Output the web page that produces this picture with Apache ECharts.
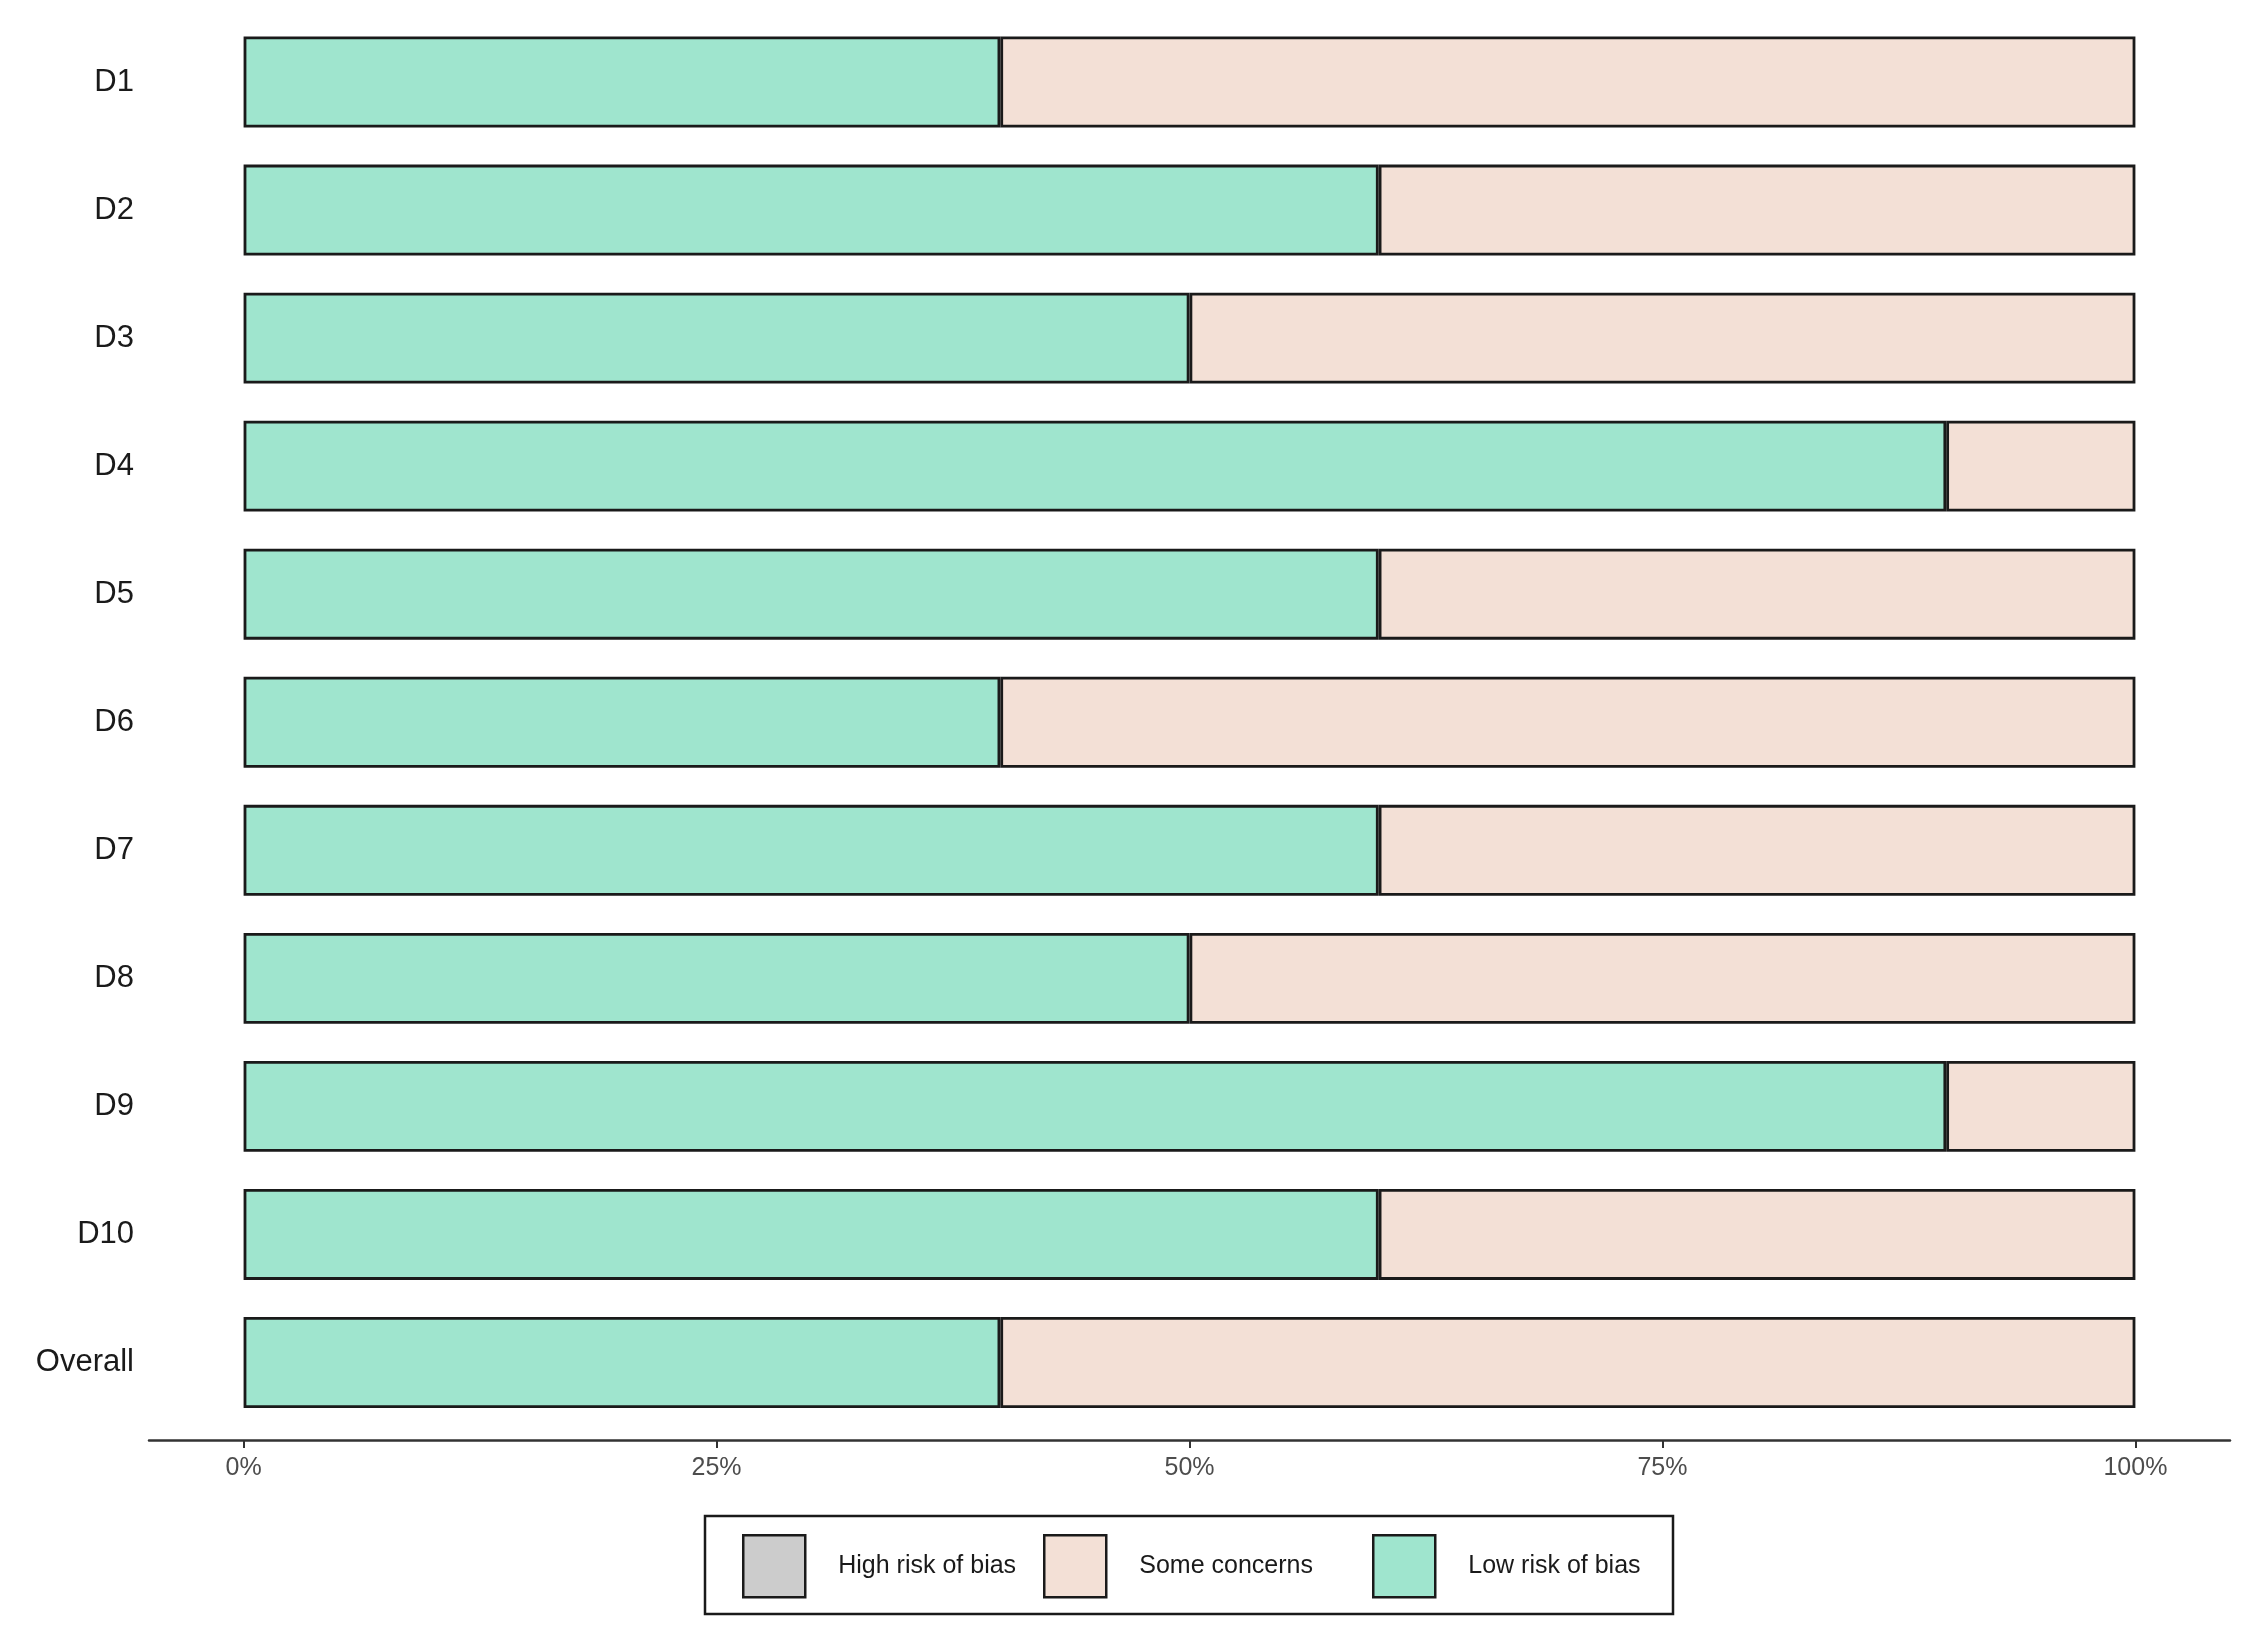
<!DOCTYPE html>
<html>
<head>
<meta charset="utf-8">
<style>
  html, body { margin: 0; padding: 0; background: #ffffff; }
  #chart { width: 2259px; height: 1648px; }
</style>
<script src="https://cdn.jsdelivr.net/npm/echarts@6/dist/echarts.min.js"></script>
</head>
<body>
<div id="chart"></div>
<script>
// Data (percent of studies)
const categories = ['D1', 'D2', 'D3', 'D4', 'D5', 'D6', 'D7', 'D8', 'D9', 'D10', 'Overall'];
const lowRisk      = [40, 60, 50, 90, 60, 40, 60, 50, 90, 60, 40];
const someConcerns = [60, 40, 50, 10, 40, 60, 40, 50, 10, 40, 60];
const highRisk     = [null, null, null, null, null, null, null, null, null, null, null];
const tickValues = [0, 25, 50, 75, 100];
const tickLabels = ['0%', '25%', '50%', '75%', '100%'];
const seriesNames = ['High risk of bias', 'Some concerns', 'Low risk of bias'];

const colHigh = '#CCCCCC';
const colSome = '#F3E0D6';
const colLow  = '#9FE5CE';
const edge = '#1a1a1a';
const FONT = '"Liberation Sans", Arial, Helvetica, sans-serif';

const chart = echarts.init(document.getElementById('chart'));

function legendFor(name, left) {
  return {
    show: true,
    data: [name],
    orient: 'horizontal',
    left: left,
    top: 1534,
    padding: 0,
    itemWidth: 62,
    itemHeight: 62,
    selectedMode: false,
    icon: 'rect',
    itemStyle: { borderColor: edge, borderWidth: 2.5 },
    textStyle: {
      fontFamily: FONT,
      fontSize: 25,
      color: '#1a1a1a',
      padding: [0, 0, 0, 28]
    }
  };
}

const option = {
  animation: false,
  backgroundColor: '#ffffff',
  grid: {
    left: 149,
    right: 29,
    top: 18,
    bottom: 221.5,
    containLabel: false
  },
  xAxis: {
    type: 'value',
    min: -5,
    max: 105,
    offset: 13.5,
    splitLine: { show: false },
    axisLine: { show: true, lineStyle: { color: '#333333', width: 2.5 } },
    axisTick: {
      show: true,
      length: 8,
      customValues: tickValues,
      lineStyle: { color: '#333333', width: 2 }
    },
    axisLabel: {
      show: true,
      customValues: tickValues,
      margin: 16,
      fontFamily: FONT,
      fontSize: 25,
      color: '#4D4D4D',
      formatter: function (v) {
        const i = tickValues.indexOf(v);
        return i >= 0 ? tickLabels[i] : '';
      }
    }
  },
  yAxis: {
    type: 'category',
    data: categories,
    inverse: true,
    axisLine: { show: false },
    axisTick: { show: false },
    splitLine: { show: false },
    axisLabel: {
      margin: 15,
      fontFamily: FONT,
      fontSize: 31,
      color: '#1a1a1a'
    }
  },
  legend: [
    legendFor(seriesNames[0], 742),
    legendFor(seriesNames[1], 1043),
    legendFor(seriesNames[2], 1372)
  ],
  graphic: [
    {
      type: 'rect',
      silent: true,
      shape: { x: 705, y: 1516, width: 968, height: 98 },
      style: { fill: 'none', stroke: edge, lineWidth: 2.5 }
    }
  ],
  series: [
    {
      name: seriesNames[2],
      type: 'bar',
      stack: 'rob',
      data: lowRisk,
      barWidth: '71%',
      itemStyle: { color: colLow, borderColor: edge, borderWidth: 2.8 }
    },
    {
      name: seriesNames[1],
      type: 'bar',
      stack: 'rob',
      data: someConcerns,
      barWidth: '71%',
      itemStyle: { color: colSome, borderColor: edge, borderWidth: 2.8 }
    },
    {
      name: seriesNames[0],
      type: 'bar',
      stack: 'rob',
      data: highRisk,
      barWidth: '71%',
      itemStyle: { color: colHigh, borderColor: edge, borderWidth: 2.8 }
    }
  ]
};

chart.setOption(option);
</script>
</body>
</html>
